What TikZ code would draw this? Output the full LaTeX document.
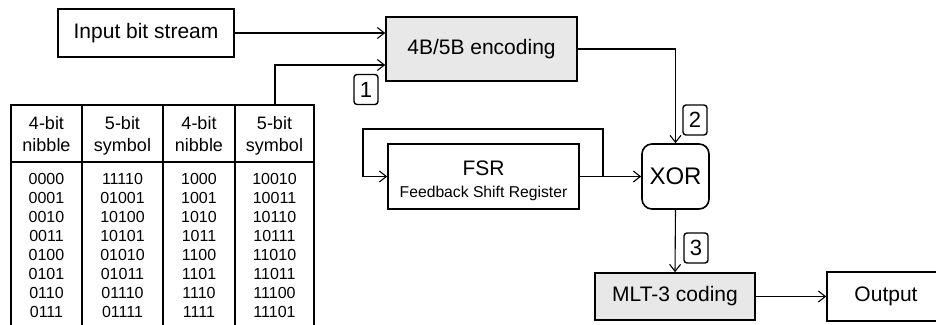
\documentclass[tikz,border=0pt]{standalone}
\usepackage{fontspec}
\setmainfont{Liberation Sans}
\usetikzlibrary{arrows.meta,calc}
\begin{document}
\begin{tikzpicture}[x=1pt,y=-1pt,
  box/.style={draw,line width=1.6pt,inner sep=0pt,font=\fontsize{21}{25}\selectfont},
  gbox/.style={box,fill=black!9},
  conn/.style={line width=1.1pt,-{Straight Barb[length=7pt,width=11pt,line width=1.1pt]}},
  tag/.style={draw,line width=1.4pt,rounded corners=3pt,minimum width=24pt,minimum height=30pt,inner sep=0pt,font=\fontsize{22}{24}\selectfont},
  hdr/.style={font=\fontsize{18}{22}\selectfont,inner sep=0pt,anchor=base},
  cell/.style={font=\fontsize{16}{18}\selectfont,inner sep=0pt,anchor=base},
  tline/.style={line width=1.4pt},
]
\useasboundingbox[fill=white] (0,0) rectangle (936,324);

% main blocks
\node[box,minimum width=176pt,minimum height=48pt] (inp) at (146,33) {Input bit stream};
\node[gbox,minimum width=191pt,minimum height=64pt] (enc) at (481.5,49) {4B/5B encoding};
\node[box,minimum width=191pt,minimum height=65pt] (fsr) at (483.5,176.5) {};
\node[font=\fontsize{21}{24}\selectfont,inner sep=0pt,anchor=base] (fsrt) at (483.5,175.5) {FSR};
\node[font=\fontsize{15.7}{18}\selectfont,inner sep=0pt,anchor=base] (fsrs) at (483.5,197) {Feedback Shift Register};
\node[box,rounded corners=10pt,minimum width=67pt,minimum height=65pt,font=\fontsize{24}{28}\selectfont] (xor) at (675.5,176.5) {XOR};
\node[gbox,minimum width=160pt,minimum height=47pt] (mlt) at (675,296.5) {MLT-3 coding};
\node[box,minimum width=118pt,minimum height=49pt] (out) at (886,296.5) {Output};

% tags
\node[tag] (t1) at (366,89.5) {1};
\node[tag] (t2) at (695,120) {2};
\node[tag] (t3) at (696,248) {3};

% connectors
\coordinate (tabtop) at (275,105);
\coordinate (br) at (603,176.5);
\coordinate (loopL) at (363,129);
\draw[conn] (inp.east) -- (inp.east -| enc.west);
\draw[conn] (tabtop) |- ($(enc.west)+(0,16)$);
\draw[conn] (enc.east) -| (xor.north);
\draw[conn] (fsr.east) -- (xor.west);
\draw[conn] (br) |- (loopL) |- (fsr.west);
\draw[conn] (xor.south) -- (mlt.north);
\draw[conn] (mlt.east) -- (out.west);

% table
\draw[line width=1.8pt] (11,330) -- (11,105) -- (314,105) -- (314,330);
\draw[line width=1.6pt] (11,162) -- (314,162);
\draw[tline] (82,105) -- (82,330);
\draw[line width=2.2pt] (163,105) -- (163,330);
\draw[tline] (235,105) -- (235,330);

\foreach \x/\n/\u/\v in {46.5/h1/4-bit/nibble, 122.5/h2/5-bit/symbol, 199/h3/4-bit/nibble, 274.5/h4/5-bit/symbol}{
  \node[hdr] (\n a) at (\x,129) {\u};
  \node[hdr] (\n b) at (\x,151) {\v};
}
\foreach \a/\b/\c/\d [count=\i from 0] in {0000/11110/1000/10010, 0001/01001/1001/10011, 0010/10100/1010/10110, 0011/10101/1011/10111, 0100/01010/1100/11010, 0101/01011/1101/11011, 0110/01110/1110/11100, 0111/01111/1111/11101}{
  \node[cell] (r\i a) at (46.5,{184+19*\i}) {\a};
  \node[cell] (r\i b) at (122.5,{184+19*\i}) {\b};
  \node[cell] (r\i c) at (199,{184+19*\i}) {\c};
  \node[cell] (r\i d) at (274.5,{184+19*\i}) {\d};
}
\end{tikzpicture}
\end{document}
